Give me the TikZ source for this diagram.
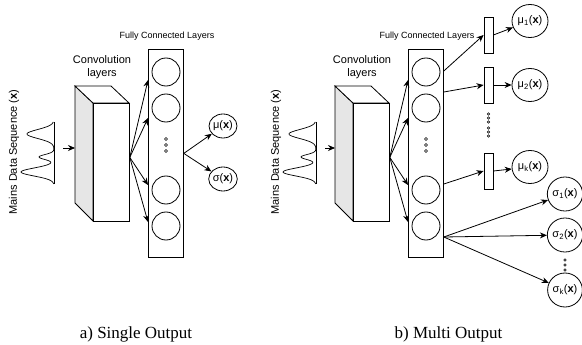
\documentclass[tikz,border=0pt]{standalone}
\usepackage{fontspec}
\setmainfont{Liberation Serif}
\newfontfamily\labelfont{Liberation Sans}
\usetikzlibrary{arrows.meta,shapes.geometric,calc}

\definecolor{sidegray}{HTML}{E6E6E6}

\tikzset{
  ink/.style={draw=black, line width=0.8pt},
  conn/.style={ink, -{Stealth[length=7pt,width=6pt]}},
  neuron/.style={ink, circle, minimum size=28pt, inner sep=0pt},
  tinydot/.style={draw=black, line width=0.45pt, circle, minimum size=3pt, inner sep=0pt},
  boxnode/.style={ink, fill=white, inner sep=0pt, anchor=north west},
  smallfc/.style={ink, fill=white, minimum width=9pt, minimum height=36pt, inner sep=0pt},
  lbl/.style={font=\labelfont\fontsize{11}{13}\selectfont, inner sep=0pt},
  smalllbl/.style={font=\labelfont\fontsize{9}{10}\selectfont, inner sep=0pt},
  outsmall/.style={ink, ellipse, minimum width=27pt, minimum height=24pt, inner sep=0pt,
    font=\labelfont\fontsize{11}{12}\selectfont},
  outbig/.style={ink, ellipse, minimum width=36pt, minimum height=33pt, inner sep=0pt,
    font=\labelfont\fontsize{11}{12}\selectfont},
  caption/.style={font=\fontsize{17}{19}\selectfont, anchor=base, inner sep=0pt},
}

% One network panel: input signal, convolution block and fully connected column.
% #1 name prefix, #2 horizontal offset, #3 extra offset of the input side
\newcommand\netpanel[3]{%
\begin{scope}[shift={(#2,0)}]
  \node[lbl, rotate=90] (#1txt) at (14+#3,152) {Mains Data Sequence (\textbf{x})};
  % signal drawn along a vertical base line
  \draw[ink] (54+#3,122) -- (54+#3,184);
  \draw[ink, line width=0.7pt, smooth, samples=90, domain=122:184, variable=\t]
    plot ({54+#3-27*exp(-((\t-134)^2)/40)-15*exp(-((\t-157)^2)/12)-33*exp(-((\t-172)^2)/32)}, \t);
  \coordinate (#1in) at (63+#3,148);
  \coordinate (#1side) at (75,148);
  \draw[conn] (#1in) -- (#1side);
  % convolution block
  \draw[ink, fill=sidegray] (75,86) -- (93,103) -- (93,221) -- (75,203) -- cycle;
  \draw[ink, fill=white] (75,86) -- (111,86) -- (129,103) -- (93,103) -- cycle;
  \node[boxnode, minimum width=36pt, minimum height=118pt] (#1conv) at (93,103) {};
  \node[lbl, align=center] (#1convlbl) at (102,67) {Convolution\\layers};
  % fully connected column
  \node[boxnode, minimum width=35pt, minimum height=208pt] (#1fc) at (148,49) {};
  \node[smalllbl] (#1fclbl) at (167,36) {Fully Connected Layers};
  \foreach \i/\y in {1/72,2/108,3/190,4/226}
    \node[neuron] (#1n\i) at (166,\y) {};
  \foreach \i/\y in {1/139,2/145,3/151}
    \node[tinydot] (#1d\i) at (166,\y) {};
  \coordinate (#1src) at ($(#1conv.east)+(0,-5)$);
  \foreach \y in {80,118,185,222}
    \draw[conn] (#1src) -- (#1fc.west |- 0,\y);
\end{scope}}

\begin{document}
\begin{tikzpicture}[x=1pt, y=-1pt]
  \useasboundingbox (0,0) rectangle (582,345);

  % ---- a) single output ----
  \netpanel{A}{0}{0}
  \node[outsmall] (muA) at (223,126) {μ(\textbf{x})};
  \node[outsmall] (sigA) at (223,179) {σ(\textbf{x})};
  \draw[conn] (Afc.east) -- (muA);
  \draw[conn] (Afc.east) -- (sigA);
  \node[caption] (capA) at (136,338) {a) Single Output};

  % ---- b) multi output ----
  \netpanel{B}{260}{2}
  \node[smallfc] (r1) at (488.5,35) {};
  \node[smallfc] (r2) at (488.5,85) {};
  \node[smallfc] (r3) at (488.5,171) {};
  \foreach \i/\y in {1/114,2/118,3/122,4/128,5/132,6/136}
    \node[tinydot, minimum size=2.6pt] (rd\i) at (488.5,\y) {};
  \draw[conn] (Bfc.east |- 0,71) -- (r1.west);
  \draw[conn] (Bfc.east |- 0,92) -- (r2.west);
  \draw[conn] (Bfc.east |- 0,184) -- (r3.west);

  \node[outbig] (mu1) at (530,21) {μ\textsubscript{1}(\textbf{x})};
  \node[outbig] (mu2) at (530,85) {μ\textsubscript{2}(\textbf{x})};
  \node[outbig] (muk) at (530,167) {μ\textsubscript{k}(\textbf{x})};
  \draw[conn] (r1.east) -- (mu1);
  \draw[conn] (r2.east) -- (mu2);
  \draw[conn] (r3.east) -- (muk);

  \node[outbig, minimum width=34pt, minimum height=34pt] (sg1) at (565,194) {σ\textsubscript{1}(\textbf{x})};
  \node[outbig, minimum width=34pt, minimum height=34pt] (sg2) at (565,235) {σ\textsubscript{2}(\textbf{x})};
  \node[outbig, minimum width=34pt, minimum height=34pt] (sgk) at (565,290) {σ\textsubscript{k}(\textbf{x})};
  \foreach \i/\y in {1/260,2/265,3/270}
    \node[tinydot, minimum size=2.6pt] (sd\i) at (565,\y) {};
  \coordinate (Bsig) at (Bfc.east |- 0,237);
  \draw[conn] (Bsig) -- (sg1);
  \draw[conn] (Bsig) -- (sg2);
  \draw[conn] (Bsig) -- (sgk);

  \node[caption] (capB) at (448.5,338) {b) Multi Output};
\end{tikzpicture}
\end{document}
